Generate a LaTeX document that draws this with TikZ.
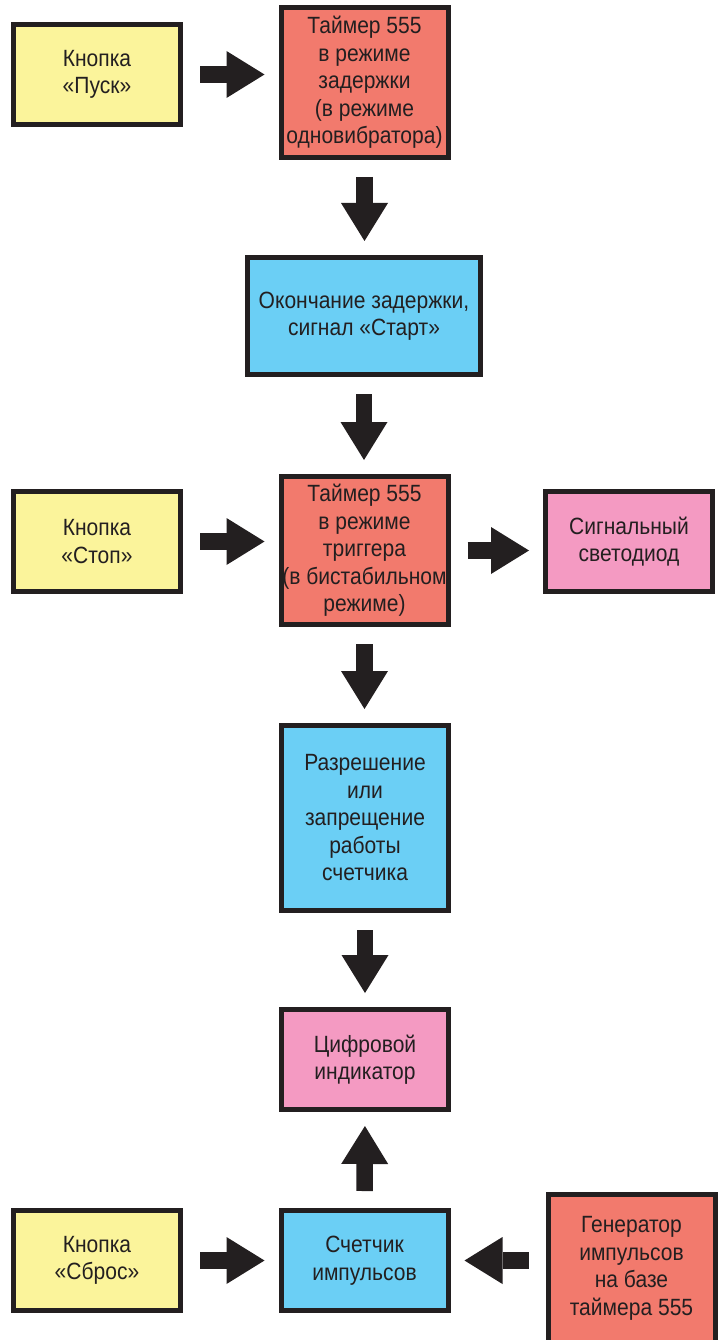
\documentclass[tikz,border=0pt]{standalone}
\usepackage{fontspec}
\setmainfont{Liberation Sans}[FakeStretch=0.895]
\usepackage{xcolor}
\usetikzlibrary{arrows.meta}
\definecolor{ink}{HTML}{231F20}
\definecolor{btncol}{HTML}{FBF49B}
\definecolor{tmrcol}{HTML}{F27A6D}
\definecolor{sigcol}{HTML}{6BCFF5}
\definecolor{outcol}{HTML}{F49AC2}

\begin{document}
\begin{tikzpicture}[x=1pt, y=-1pt,
  every node/.style={font=\fontsize{23.5}{27.5}\selectfont, text=ink, align=center},
  blk/.style={draw=ink, line width=5pt, inner sep=0pt, minimum width=167pt, minimum height=100pt},
  flow/.style={ink, line width=16.5pt, shorten <=17pt, shorten >=14pt,
    -{Triangle[width=47pt,length=38pt,line width=0pt]}}]
  \useasboundingbox (0,0) rectangle (718,1340);
  \node[blk, fill=btncol] (pusk) at (97,74.5) {Кнопка\\«Пуск»};
  \node[blk, fill=tmrcol, minimum height=150pt] (tmrA) at (364.5,82.5) {Таймер 555\\в режиме\\задержки\\(в режиме\\одновибратора)};
  \node[blk, fill=sigcol, minimum width=233pt, minimum height=117pt] (endd) at (364,316) {Окончание задержки,\\сигнал «Старт»};
  \node[blk, fill=btncol] (stop) at (97,541.5) {Кнопка\\«Стоп»};
  \node[blk, fill=tmrcol, minimum height=148pt] (tmrB) at (364.5,550.5) {Таймер 555\\в режиме\\триггера\\(в бистабильном\\режиме)};
  \node[blk, fill=outcol] (led) at (629,541.5) {Сигнальный\\светодиод};
  \node[blk, fill=sigcol, minimum height=185pt] (enbl) at (365,818) {Разрешение\\или\\запрещение\\работы\\счетчика};
  \node[blk, fill=outcol] (disp) at (365,1059.5) {Цифровой\\индикатор};
  \node[blk, fill=btncol] (rst) at (97,1260.5) {Кнопка\\«Сброс»};
  \node[blk, fill=sigcol] (cnt) at (364.5,1260.5) {Счетчик\\импульсов};
  \node[blk, fill=tmrcol, minimum height=148pt] (gen) at (631.5,1268.5) {Генератор\\импульсов\\на базе\\таймера 555};
  \foreach \a/\b in {pusk/tmrA, stop/tmrB, tmrB/led, rst/cnt}
    \draw[flow] (\a.east) -- (\a.east -| \b.west);
  \foreach \a/\b in {tmrA/endd, endd/tmrB, tmrB/enbl, enbl/disp}
    \draw[flow] (\a.south) -- (\a.south |- \b.north);
  \draw[flow] (cnt.north) -- (disp.south);
  \draw[flow] (cnt.east -| gen.west) -- (cnt.east);
\end{tikzpicture}
\end{document}
